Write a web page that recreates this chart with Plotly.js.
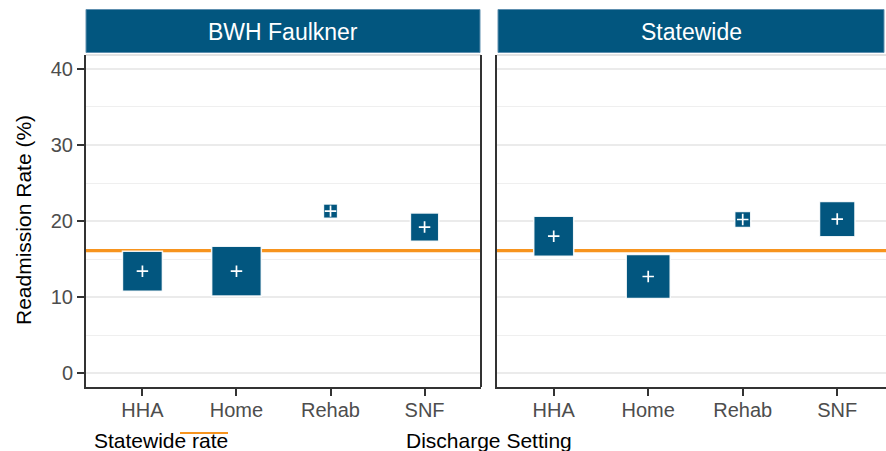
<!DOCTYPE html>
<html>
<head>
<meta charset="utf-8">
<script src="https://cdn.plot.ly/plotly-3.0.1.min.js"></script>
<style>html,body{margin:0;padding:0;background:#fff;}#chart{width:886px;height:451px;}</style>
</head>
<body>
<div id="chart"></div>
<script>
// ---- data ----
const categories = ['HHA', 'Home', 'Rehab', 'SNF'];
const facets = ['BWH Faulkner', 'Statewide'];
const faulknerRate = [13.4, 13.4, 21.3, 19.2];
const faulknerVolume = [168, 257, 23, 86];
const statewideFacetRate = [18.0, 12.7, 20.2, 20.25];
const statewideFacetVolume = [168, 203, 29, 133];
const statewideRate = 16.1;
const yTicks = [0, 10, 20, 30, 40];

// ---- styling / layout helpers ----
const W = 886, H = 451;
const px = x => x / W;
const py = y => 1 - y / H;
const BLUE = '#02567F';
const ORANGE = '#F7941E';
const FONT = 'Liberation Sans, Arial, Helvetica, sans-serif';
const sizeOf = v => 3.16 * Math.sqrt(v) - 1;

function facetTraces(rates, volumes, xa, ya) {
  return [
    {
      type: 'scatter', mode: 'markers', x: categories, y: rates,
      xaxis: xa, yaxis: ya, hoverinfo: 'skip', showlegend: false,
      marker: { symbol: 'square', color: BLUE, opacity: 1, size: volumes.map(sizeOf),
                line: { color: 'rgba(255,255,255,0.9)', width: 1.5 } }
    },
    {
      type: 'scatter', mode: 'markers', x: categories, y: rates,
      xaxis: xa, yaxis: ya, hoverinfo: 'skip', showlegend: false,
      marker: { symbol: 'cross-thin', size: 8.2, color: 'white', opacity: 1,
                line: { color: 'white', width: 1.7 } }
    }
  ];
}

const data = [
  ...facetTraces(faulknerRate, faulknerVolume, 'x', 'y'),
  ...facetTraces(statewideFacetRate, statewideFacetVolume, 'x2', 'y2')
];

const yRange = [-1.84, 41.84];
const yDomain = [py(387), py(55)];

function yAxis(showLabels, anchor) {
  return {
    domain: yDomain, range: yRange, anchor: anchor,
    tickvals: yTicks, ticktext: yTicks.map(String),
    showticklabels: showLabels,
    ticks: showLabels ? 'outside' : '', ticklen: 7, tickwidth: 2, tickcolor: '#333333',
    tickfont: { family: FONT, size: 20, color: '#4D4D4D' },
    showgrid: true, gridcolor: '#EBEBEB', gridwidth: 2,
    minor: { dtick: 5, tick0: 0, showgrid: true, gridcolor: '#EFEFEF', gridwidth: 1 },
    zeroline: false, showline: true, linecolor: '#333333', linewidth: 2,
    fixedrange: true
  };
}
function xAxis(domain, range, anchor) {
  return {
    domain: domain, range: range, anchor: anchor, type: 'category',
    categoryorder: 'array', categoryarray: categories,
    ticks: 'outside', ticklen: 7, tickwidth: 2, tickcolor: '#333333',
    ticklabelstandoff: -3,
    tickfont: { family: FONT, size: 20, color: '#4D4D4D' },
    showgrid: false, zeroline: false, showline: true, linecolor: '#333333', linewidth: 2,
    fixedrange: true
  };
}

const shapes = [];
const annotations = [];
const panels = [
  { xref: 'x', yref: 'y', x0: 86, x1: 481, sx0: 86, sx1: 480 },
  { xref: 'x2', yref: 'y2', x0: 497, x1: 886, sx0: 498, sx1: 884 }
];
panels.forEach((p, i) => {
  // statewide reference line
  shapes.push({ type: 'line', layer: 'below', xref: p.xref + ' domain', yref: p.yref,
    x0: 0, x1: 1, y0: statewideRate, y1: statewideRate,
    line: { color: ORANGE, width: 3.2 } });
  // thin top border
  shapes.push({ type: 'line', xref: p.xref + ' domain', yref: p.yref + ' domain',
    x0: 0, x1: 1, y0: 1, y1: 1, line: { color: '#C8C8C8', width: 1 } });
  // strip
  shapes.push({ type: 'rect', xref: 'paper', yref: 'paper',
    x0: px(p.sx0), x1: px(p.sx1), y0: py(52.5), y1: py(9.5),
    fillcolor: BLUE, line: { color: '#5E8FAF', width: 1 } });
  annotations.push({ xref: 'paper', yref: 'paper', x: (px(p.sx0) + px(Math.min(p.sx1, 886))) / 2,
    y: py(32), text: facets[i], showarrow: false, xanchor: 'center', yanchor: 'middle',
    font: { family: FONT, size: 23, color: 'white' } });
});
// right border of first panel
shapes.push({ type: 'line', xref: 'x domain', yref: 'y domain', x0: 1, x1: 1, y0: 0, y1: 1,
  line: { color: '#333333', width: 2 } });

// axis titles
annotations.push({ xref: 'paper', yref: 'paper', x: px(23), y: py(220), textangle: -90,
  text: 'Readmission Rate (%)', showarrow: false, xanchor: 'center', yanchor: 'middle',
  font: { family: FONT, size: 21, color: '#000000' } });
annotations.push({ xref: 'paper', yref: 'paper', x: px(489), y: py(440),
  text: 'Discharge Setting', showarrow: false, xanchor: 'center', yanchor: 'middle',
  font: { family: FONT, size: 21, color: '#000000' } });
// legend
annotations.push({ xref: 'paper', yref: 'paper', x: px(92), y: py(440),
  text: 'Statewide rate', showarrow: false, xanchor: 'left', yanchor: 'middle',
  font: { family: FONT, size: 21, color: '#000000' } });
shapes.push({ type: 'line', xref: 'paper', yref: 'paper', x0: px(180), x1: px(228),
  y0: py(433), y1: py(433), line: { color: ORANGE, width: 2 } });

const layout = {
  width: W, height: H,
  margin: { l: 0, r: 0, t: 0, b: 0, pad: 0 },
  paper_bgcolor: 'white', plot_bgcolor: 'white',
  showlegend: false,
  xaxis: xAxis([px(86), px(481)], [-0.6, 3.6], 'y'),
  yaxis: yAxis(true, 'x'),
  xaxis2: xAxis([px(497), 1], [-0.6, 3.516], 'y2'),
  yaxis2: yAxis(false, 'x2'),
  shapes: shapes,
  annotations: annotations,
  font: { family: FONT }
};

Plotly.newPlot('chart', data, layout, { staticPlot: true, displayModeBar: false });
</script>
</body>
</html>
